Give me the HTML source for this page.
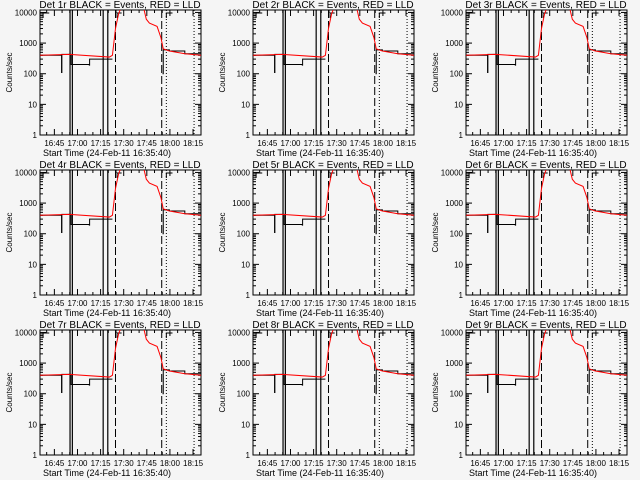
<!DOCTYPE html>
<html><head><meta charset="utf-8">
<style>
body{margin:0;background:#f5f5f5;}
svg{display:block;font-family:"Liberation Sans",sans-serif;}
</style></head>
<body>
<svg id="c" width="640" height="480"></svg>
<script>
// minutes after 16:35:40
const redT=[0,19,45,47,49,51,53,67,69,71,76,78.5,80,84,94,104.5];
const redV=[400,430,350,400,3000,9000,16000,16000,6000,4500,3500,1500,650,550,450,400];
const blackT1=[0,13.9,14,14.2,20,20.2,32,32.2,47];
const blackV1=[400,420,110,430,430,200,190,300,300];
const blackT2=[79.5,80,84,94,104.5];
const blackV2=[100,600,550,450,400];
const xTickLabels=["16:45","17:00","17:15","17:30","17:45","18:00","18:15"];
const xTickMin=[9.33,24.33,39.33,54.33,69.33,84.33,99.33];
const yTicks=[1,10,100,1000,10000];
const solidLines=[19.5,21,41,44];
const dashedLines=[49,79];
const dottedLines=[82,100];
const NS="http://www.w3.org/2000/svg";
const svg=document.getElementById('c');
function mk(t,a,p){const e=document.createElementNS(NS,t);for(const k in a)e.setAttribute(k,a[k]);(p||svg).appendChild(e);return e;}
const W=161,H=125,tMax=104.5,yTopLog=4.08;
for(let r=0;r<3;r++)for(let c=0;c<3;c++){
 const n=r*3+c+1;
 const L=40+213*c,T=10+160*r;
 const g=mk('g',{});
 
 
 const X=t=>L+t/tMax*W;
 const Y=v=>T+H-(Math.log10(v))/yTopLog*H;
 const cid='clip'+n;
 const cp=mk('clipPath',{id:cid},g);mk('rect',{x:L,y:T,width:W,height:H},cp);
 const title=mk('text',{x:L+80,y:T-2,'font-size':10,'text-anchor':'middle',fill:'#000'},g);
 title.textContent='Det '+n+'r BLACK = Events, RED = LLD';
 
 
 const fr=mk('rect',{x:L,y:T,width:W,height:H,fill:'none',stroke:'#000','stroke-width':1},g);
 
 
 yTicks.forEach(v=>{const y=Y(v);
  mk('line',{x1:L,x2:L+6,y1:y,y2:y,stroke:'#000'},g);mk('line',{x1:L+W-6,x2:L+W,y1:y,y2:y,stroke:'#000'},g);
  const tl=mk('text',{x:L-3,y:y+3,'font-size':8,'text-anchor':'end'},g);tl.textContent=v;
  
  
  if(v<10000)for(let k=2;k<10;k++){const yy=Y(v*k);mk('line',{x1:L,x2:L+3,y1:yy,y2:yy,stroke:'#000'},g);mk('line',{x1:L+W-3,x2:L+W,y1:yy,y2:yy,stroke:'#000'},g);}
 });
 xTickMin.forEach((t,i)=>{const x=X(t);
  mk('line',{x1:x,x2:x,y1:T+H,y2:T+H-6,stroke:'#000'},g);mk('line',{x1:x,x2:x,y1:T,y2:T+6,stroke:'#000'},g);
  const tl=mk('text',{x:x,y:T+H+11,'font-size':8,'text-anchor':'middle'},g);tl.textContent=xTickLabels[i];
  
  
  for(let m=5;m<15;m+=5){const xm=X(t-m);if(xm>L){mk('line',{x1:xm,x2:xm,y1:T+H,y2:T+H-3,stroke:'#000'},g);mk('line',{x1:xm,x2:xm,y1:T,y2:T+3,stroke:'#000'},g);}}
 });
 const xt=mk('text',{x:L+67,y:T+H+21,'font-size':9,'text-anchor':'middle'},g);
 xt.textContent='Start Time (24-Feb-11 16:35:40)';
 
 
 const yt=mk('text',{x:0,y:0,'font-size':8,'text-anchor':'middle',transform:`translate(${L-28},${T+H/2}) rotate(-90)`},g);
 yt.textContent='Counts/sec';
 
 
 const cg=mk('g',{'clip-path':`url(#${cid})`},g);
 solidLines.forEach(t=>mk('line',{x1:X(t),x2:X(t),y1:T,y2:T+H,stroke:'#000','stroke-width':1.2},cg));
 dashedLines.forEach(t=>mk('line',{x1:X(t),x2:X(t),y1:T,y2:T+H,stroke:'#000','stroke-dasharray':'8,3'},cg));
 dottedLines.forEach(t=>mk('line',{x1:X(t),x2:X(t),y1:T,y2:T+H,stroke:'#000','stroke-dasharray':'1,2'},cg));
 mk('path',{d:`M${X(2)} ${T+8}V${T+3}H${X(6)}M${X(82)} ${T+8}V${T+3}H${X(86)}M${X(50)} ${T+8}V${T+3}H${X(53)}`,fill:'none',stroke:'#000'},cg);
 function stepPath(ts,vs){let d='';ts.forEach((t,i)=>{d+=(i?'H'+X(t)+'V':'M'+X(t)+' ')+Y(vs[i]);});return d;}
 const bl=mk('path',{d:stepPath(blackT1,blackV1)+stepPath(blackT2,blackV2),fill:'none',stroke:'#000','stroke-width':1},cg);
 
 
 let d2='';redT.forEach((t,i)=>{d2+=(i?'L':'M')+X(t)+' '+Y(redV[i]);});
 const rl=mk('path',{d:d2,fill:'none',stroke:'#ff0000','stroke-width':1},cg);
 
 
}
</script>
</body></html>
